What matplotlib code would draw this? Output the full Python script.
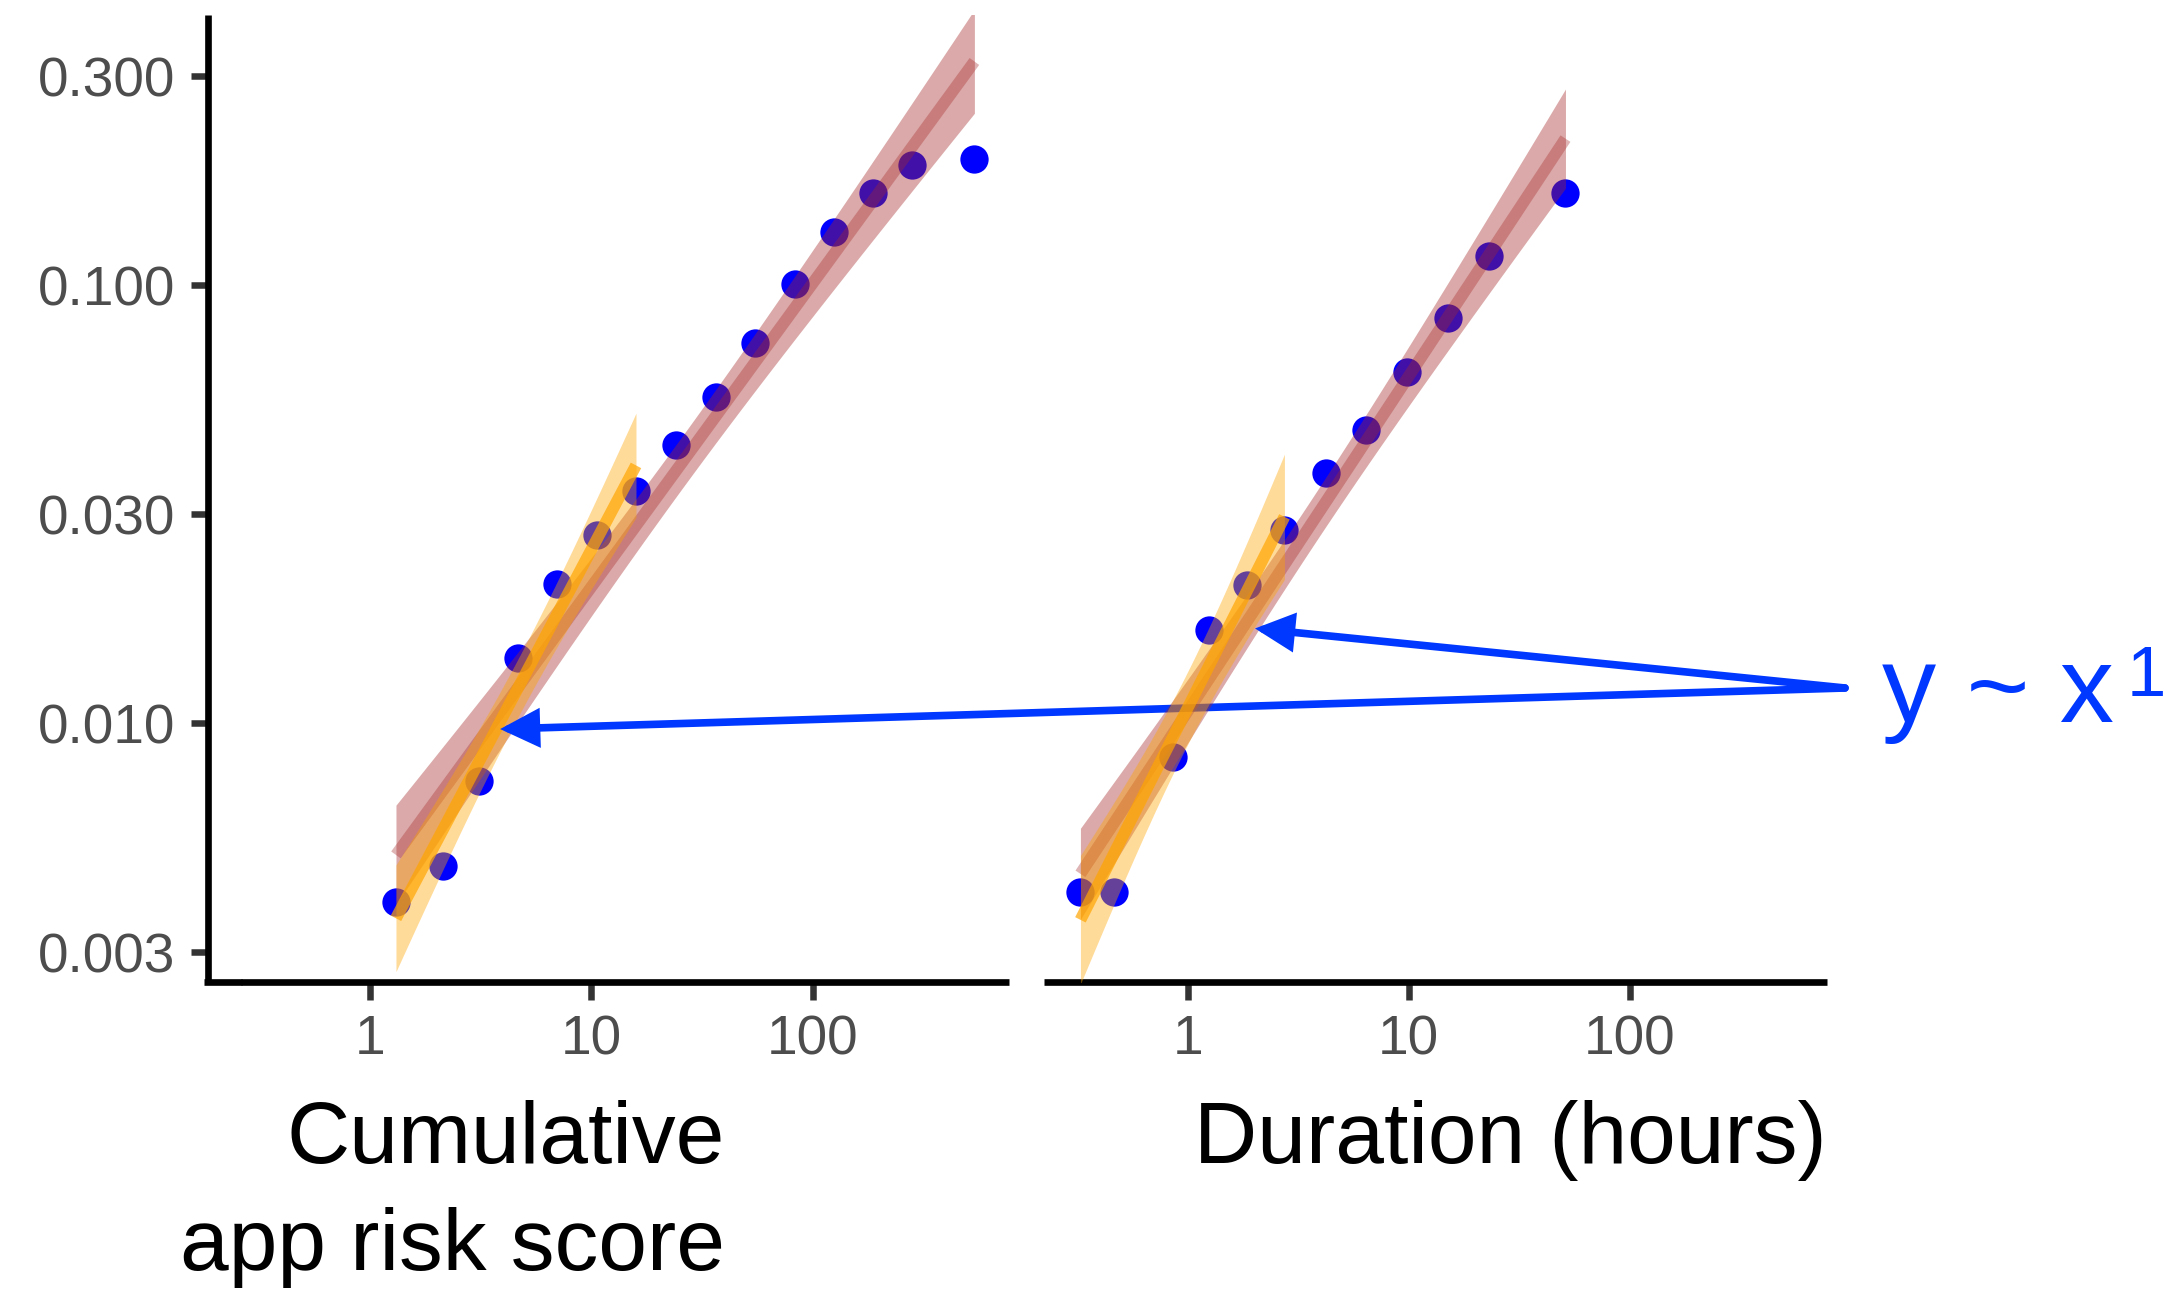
import math
import numpy as np
import matplotlib
matplotlib.use("Agg")
import matplotlib.pyplot as plt
from matplotlib.lines import Line2D

plt.rcParams['font.family'] = ['Liberation Sans', 'DejaVu Sans']

# ---------------- data ----------------
risk_x = [1.31, 2.13, 3.10, 4.65, 7.01, 10.56, 15.9, 24.0, 36.4, 54.9, 82.8, 124.7, 188.0, 280.0, 537.0]
risk_y = [0.0039, 0.00472, 0.00737, 0.01408, 0.02085, 0.02691, 0.03382, 0.04321,
          0.0557, 0.0739, 0.1006, 0.132, 0.1627, 0.1886, 0.1944]
risk_n_early = 7          # points used by the orange (early) fit

dur_x = [0.327, 0.463, 0.854, 1.246, 1.849, 2.739, 4.225, 6.41, 9.80, 15.12, 23.14, 51.2]
dur_y = [0.00412, 0.00412, 0.00837, 0.01632, 0.0207, 0.02765, 0.03726, 0.0467,
         0.0634, 0.0843, 0.1167, 0.1627]
dur_n_early = 6

x_ticks = [1, 10, 100]
x_tick_labels = ["1", "10", "100"]
y_ticks = [0.003, 0.01, 0.03, 0.1, 0.3]
y_tick_labels = ["0.003", "0.010", "0.030", "0.100", "0.300"]

risk_xlim = (0.2606, 772)
dur_xlim = (0.2244, 778.6)
ylim = (0.002566, 0.4141)

risk_title = ["Cumulative", "app risk score"]
dur_title = "Duration (hours)"
annot_text = "y ~ x"
annot_sup = "1"
arrow_targets = {"risk": (3.87, 0.0097), "dur": (2.016, 0.01646)}

# ---------------- helpers ----------------
W, H = 2183, 1292
DPI = 100


def fx(px):
    return px / W


def fy(py):
    return 1 - py / H


def t_quantile(df, p=0.975):
    c = math.exp(math.lgamma((df + 1) / 2) - math.lgamma(df / 2)) / math.sqrt(df * math.pi)
    t = np.linspace(0, 15, 300001)
    pdf = c * (1 + t ** 2 / df) ** (-(df + 1) / 2)
    cdf = 0.5 + np.concatenate([[0], np.cumsum((pdf[1:] + pdf[:-1]) / 2 * np.diff(t))])
    return float(np.interp(p, cdf, t))


def lm_fit(x, y, n=80):
    lx, ly = np.log10(x), np.log10(y)
    N = len(lx)
    b, a = np.polyfit(lx, ly, 1)
    resid = ly - (a + b * lx)
    s = math.sqrt(np.sum(resid ** 2) / (N - 2))
    sxx = np.sum((lx - lx.mean()) ** 2)
    g = np.linspace(lx.min(), lx.max(), n)
    pred = a + b * g
    se = s * np.sqrt(1 / N + (g - lx.mean()) ** 2 / sxx)
    tq = t_quantile(N - 2)
    return 10 ** g, 10 ** pred, 10 ** (pred - tq * se), 10 ** (pred + tq * se)


BLUE_PT = "#0000FF"
RED = "#A52A2A"
ORANGE = "#FFA500"
ARROW = "#0038FF"
SPINE_LW = 4.8
TICK_LW = 4.7

fig = plt.figure(figsize=(W / DPI, H / DPI), dpi=DPI)
ax1 = fig.add_axes([fx(240.7), fy(982), fx(1009.3) - fx(240.7), fy(15) - fy(982)])
ax2 = fig.add_axes([fx(1044.3), fy(982), fx(1826.7) - fx(1044.3), fy(15) - fy(982)])


def draw_panel(ax, x, y, n_early, xlim):
    x = np.asarray(x, float)
    y = np.asarray(y, float)
    ax.scatter(x, y, s=415, color=BLUE_PT, linewidths=0, zorder=2)
    gx, gp, lo, hi = lm_fit(x, y)
    ax.fill_between(gx, lo, hi, color=RED, alpha=0.4, linewidth=0, zorder=3)
    ax.plot(gx, gp, color=RED, alpha=0.35, lw=8.5, solid_capstyle='butt', zorder=4)
    gx, gp, lo, hi = lm_fit(x[:n_early], y[:n_early])
    ax.fill_between(gx, lo, hi, color=ORANGE, alpha=0.4, linewidth=0, zorder=5)
    ax.plot(gx, gp, color=ORANGE, alpha=0.7, lw=8.5, solid_capstyle='butt', zorder=6)
    ax.set_xscale('log')
    ax.set_yscale('log')
    ax.set_xlim(*xlim)
    ax.set_ylim(*ylim)
    ax.set_xticks(x_ticks)
    ax.set_xticklabels(x_tick_labels)
    ax.xaxis.set_minor_locator(matplotlib.ticker.NullLocator())
    ax.yaxis.set_minor_locator(matplotlib.ticker.NullLocator())
    for s in ('top', 'right'):
        ax.spines[s].set_visible(False)
    ax.spines['bottom'].set_linewidth(SPINE_LW)
    ax.spines['bottom'].set_color('black')
    ax.spines['bottom'].set_capstyle('butt')
    ax.tick_params(axis='x', length=12.6, width=TICK_LW, color='#333333',
                   labelsize=39.6, labelcolor='#4D4D4D', pad=10.8)
    ax.patch.set_alpha(0)


draw_panel(ax1, risk_x, risk_y, risk_n_early, risk_xlim)
draw_panel(ax2, dur_x, dur_y, dur_n_early, dur_xlim)

ax1.set_yticks(y_ticks)
ax1.set_yticklabels(y_tick_labels)
ax1.yaxis.set_minor_locator(matplotlib.ticker.NullLocator())
ax1.spines['left'].set_position(('outward', 23.8))
ax1.spines['left'].set_linewidth(SPINE_LW)
ax1.spines['left'].set_color('black')
ax1.spines['left'].set_capstyle('butt')
ax1.tick_params(axis='y', length=12.3, width=TICK_LW, color='#333333',
                labelsize=39.6, labelcolor='#4D4D4D', pad=11.3)

ax2.spines['left'].set_visible(False)
ax2.tick_params(axis='y', left=False, labelleft=False, which='both')

# small corner segment joining the y axis line to the x axis line
fig.add_artist(Line2D([fx(204.3), fx(242)], [fy(981.5), fy(981.5)], color='black',
                      lw=SPINE_LW, solid_capstyle='butt'))

# axis titles
fig.text(fx(725), fy(1163.3), risk_title[0], ha='right', va='baseline', fontsize=63, color='black')
fig.text(fx(725), fy(1270), risk_title[1], ha='right', va='baseline', fontsize=63, color='black')
fig.text(fx(1826.3), fy(1163.3), dur_title, ha='right', va='baseline', fontsize=63, color='black')

# annotation
start = (fx(1845), fy(688))
for key, ax in (("risk", ax1), ("dur", ax2)):
    ax.annotate("", xy=arrow_targets[key], xycoords='data',
                xytext=start, textcoords='figure fraction',
                arrowprops=dict(arrowstyle='-|>,head_length=1.0,head_width=0.5',
                                mutation_scale=20, lw=5.5, color=ARROW,
                                shrinkA=0, shrinkB=0, joinstyle='miter'),
                annotation_clip=False, zorder=10)
fig.text(fx(1881.7), fy(721.7), annot_text, ha='left', va='baseline', fontsize=78, color=ARROW)
fig.text(fx(2127), fy(696), annot_sup, ha='left', va='baseline', fontsize=51, color=ARROW)

fig.savefig("out.png", dpi=DPI, facecolor='white')
